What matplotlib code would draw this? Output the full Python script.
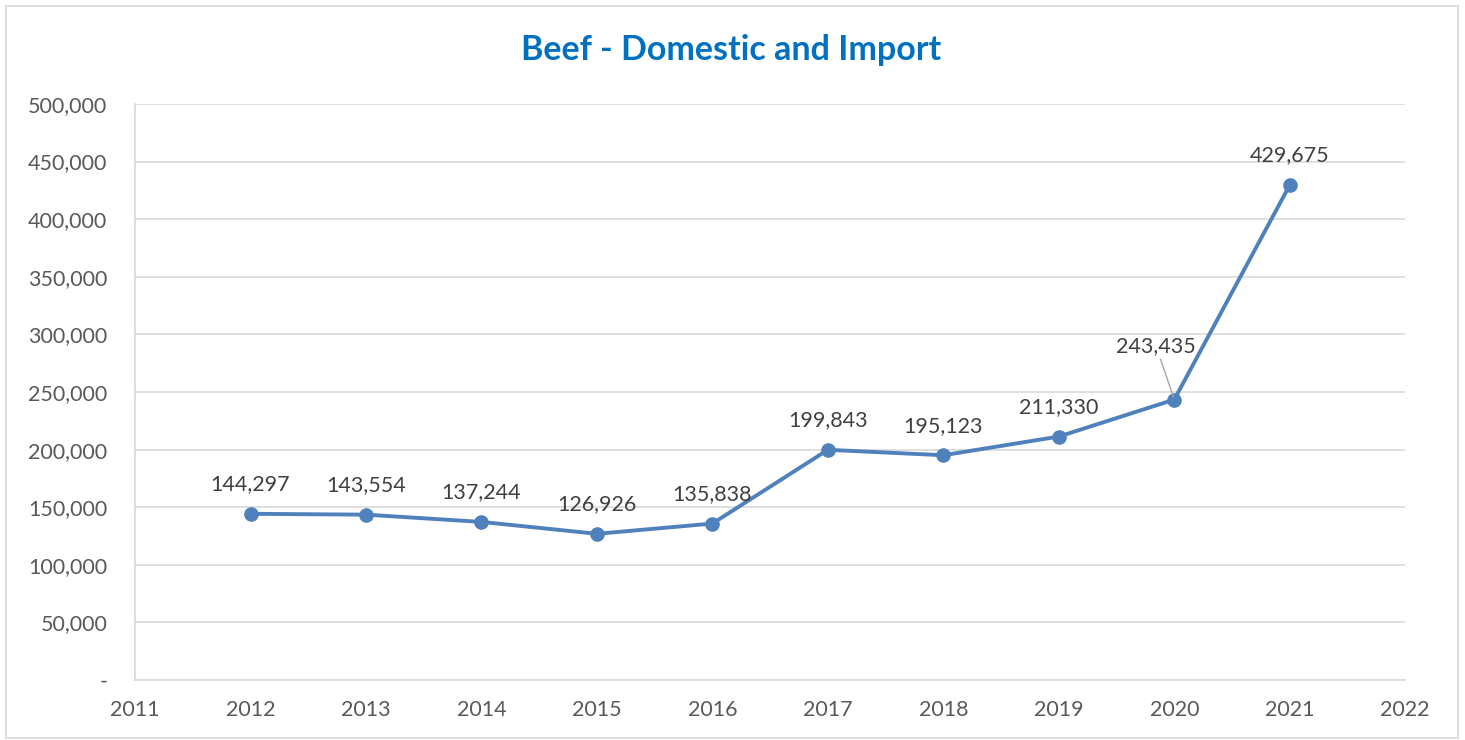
import matplotlib.pyplot as plt
from matplotlib.ticker import FuncFormatter
from matplotlib.patches import Rectangle

# dados
anos = [2012, 2013, 2014, 2015, 2016, 2017, 2018, 2019, 2020, 2021]
valores = [144297, 143554, 137244, 126926, 135838, 199843, 195123, 211330, 243435, 429675]

plt.rcParams['font.family'] = ['Lato', 'DejaVu Sans']

cor_linha = "#4F81BD"
cor_texto = "#595959"
cor_grade = "#D9D9D9"

fig = plt.figure(figsize=(14.65, 7.4), dpi=100)
ax = fig.add_axes([0.0922, 0.081, 0.867, 0.7785])

# borda da figura
fig.patches.append(Rectangle((6 / 1465, 2 / 740), 1452 / 1465, 732 / 740, transform=fig.transFigure,
                             fill=False, edgecolor="#D9D9D9", linewidth=1.2))

ax.plot(anos, valores, color=cor_linha, linewidth=2.8, marker="o", markersize=9.5, zorder=3)

# rótulos de dados
for x, y in zip(anos, valores):
    if x == 2020:
        ax.annotate(f"{y:,}", xy=(x, y), xytext=(-13, 31), textcoords="offset points",
                    ha="center", va="bottom", fontsize=15.5, color="#404040",
                    arrowprops=dict(arrowstyle="-", color="#A6A6A6", lw=1.0,
                                    shrinkA=0, shrinkB=2))
    else:
        ax.annotate(f"{y:,}", xy=(x, y), xytext=(0, 14), textcoords="offset points",
                    ha="center", va="bottom", fontsize=15.5, color="#404040")

ax.set_xlim(2011, 2022)
ax.set_ylim(0, 500000)
ax.set_xticks(range(2011, 2023))
ax.set_yticks(range(0, 500001, 50000))
ax.yaxis.set_major_formatter(FuncFormatter(lambda v, p: "-" if v == 0 else f"{int(v):,}"))
ax.tick_params(axis="both", length=0, labelsize=15.5, labelcolor=cor_texto)
ax.tick_params(axis="y", pad=20)
ax.tick_params(axis="x", pad=14)

ax.grid(axis="y", color=cor_grade, linewidth=1.2)
ax.set_axisbelow(True)
for lado in ["top", "right"]:
    ax.spines[lado].set_visible(False)
ax.spines["left"].set_color(cor_grade)
ax.spines["bottom"].set_color(cor_grade)
ax.spines["left"].set_linewidth(1.2)
ax.spines["bottom"].set_linewidth(1.2)

fig.text(0.499, 0.932, "Beef - Domestic and Import", ha="center", va="center",
         fontsize=24.5, fontweight="bold", color="#0070C0")

plt.savefig("out.png", dpi=100)
